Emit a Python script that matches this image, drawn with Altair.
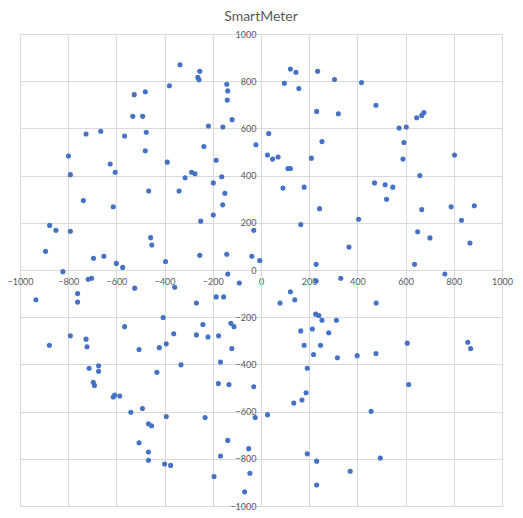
import altair as alt
import pandas as pd

# Values
x_vals = [
    -526, -532, -726, -665, -566, -799, -626, -605, -791, -737, -613, -877, -851, -791, -894,
    -695, -652, -600, -574, -822, -717, -703, -934, -761, -761, -524, -566, -791, -726, -722,
    -878, -506, -674, -674, -713, -696, -691, -613, -607, -586, -540, -506, -138, -90, -358,
    -186, -155, -268, -406, -241, -125, -112, -362, -268, -220, -176, -422, -393, -121, -332,
    -168, -432, -177, -133, -30, -492, -393, -232, -24, -467, -454, -138, -467, -51, -168,
    -467, -400, -375, -46, -195, -68, 229, 229, 331, 122, 79, 140, 478, 227, 240,
    253, 313, 165, 213, 281, 179, 247, 218, 317, 399, 477, 192, 187, 170, 136,
    27, 457, 192, 231, 495, 370, 231, 637, 763, 607, 858, 870, 613, -336, -254,
    -262, -257, -380, -142, -138, -480, -140, -491, -120, -218, -158, -476, -237, -21, -480,
    -389, -186, -288, -274, -315, -163, -198, -466, -340, -150, -159, -198, -250, -30, -458,
    -453, -254, -142, -396, -38, -5, 122, 145, 235, 305, 417, 97, 157, 477, 231,
    321, 32, 253, 27, 48, 71, 209, 112, 122, 471, 515, 547, 91, 179, 521,
    243, 405, 165, 365, 676, 667, 646, 573, 603, 593, 589, 803, 659, 667, 789,
    885, 832, 650, 701, 867,
]
y_vals = [
    743, 651, 576, 588, 568, 483, 449, 414, 404, 294, 268, 189, 168, 164, 79,
    50, 58, 28, 11, -7, -39, -35, -126, -100, -136, -77, -240, -279, -293, -325,
    -319, -337, -406, -429, -416, -476, -489, -538, -530, -534, -603, -732, -17, -55, -73,
    -114, -114, -140, -201, -231, -226, -240, -270, -275, -284, -279, -329, -313, -333, -402,
    -390, -433, -481, -485, -495, -587, -621, -625, -625, -652, -660, -722, -771, -757, -788,
    -806, -822, -828, -861, -875, -940, 24, -47, -35, -92, -140, -126, -140, -187, -193,
    -213, -213, -258, -250, -266, -319, -319, -358, -372, -363, -354, -416, -520, -551, -564,
    -613, -599, -779, -810, -797, -853, -911, 24, -17, -310, -306, -333, -485, 870, 842,
    816, 806, 781, 787, 759, 755, 720, 651, 637, 610, 606, 584, 523, 531, 505,
    457, 465, 414, 408, 391, 395, 369, 335, 335, 325, 276, 233, 207, 168, 137,
    106, 62, 67, 36, 58, 40, 852, 838, 842, 807, 794, 791, 769, 698, 672,
    662, 578, 544, 487, 470, 479, 474, 430, 430, 369, 361, 351, 347, 351, 300,
    260, 215, 193, 97, 667, 655, 645, 602, 606, 540, 470, 487, 400, 256, 268,
    272, 211, 162, 136, 114,
]
tick_values = [-1000, -800, -600, -400, -200, 0, 200, 400, 600, 800, 1000]
chart_title = "SmartMeter"

df = pd.DataFrame({"x": x_vals, "y": y_vals})

W, H = 482, 472
GRID = "#d9d9d9"
LABEL = "#595959"
FONT = "Lato"

chart = (
    alt.Chart(df)
    .mark_circle(size=26, color="#4472C4", opacity=1)
    .encode(
        x=alt.X(
            "x:Q",
            scale=alt.Scale(domain=[-1000, 1000], nice=False, zero=False),
            axis=alt.Axis(
                values=tick_values, format="d", title=None, orient="bottom", offset=-H / 2,
                grid=True, gridColor=GRID, gridWidth=1,
                domainColor=GRID, domainWidth=1, ticks=False,
                labelFlush=False, labelOverlap=False, labelPadding=7,
                labelColor=LABEL, labelFontSize=9, labelFont=FONT,
            ),
        ),
        y=alt.Y(
            "y:Q",
            scale=alt.Scale(domain=[-1000, 1000], nice=False, zero=False),
            axis=alt.Axis(
                values=tick_values, format="d", title=None, orient="left", offset=-W / 2,
                grid=True, gridColor=GRID, gridWidth=1,
                domainColor=GRID, domainWidth=1, ticks=False,
                labelFlush=False, labelOverlap=False, labelPadding=5,
                labelColor=LABEL, labelFontSize=9, labelFont=FONT,
            ),
        ),
    )
    .properties(
        width=W,
        height=H,
        title=alt.TitleParams(chart_title, font=FONT, fontSize=14, fontWeight="normal",
                              color=LABEL, anchor="middle", offset=6),
        autosize=alt.AutoSizeParams(type="none"),
        padding={"left": 12, "top": 26, "right": 13, "bottom": 4},
    )
    .configure_view(stroke=GRID, strokeWidth=1)
)

chart.save("out.html", embed_options={"renderer": "svg", "actions": False})
